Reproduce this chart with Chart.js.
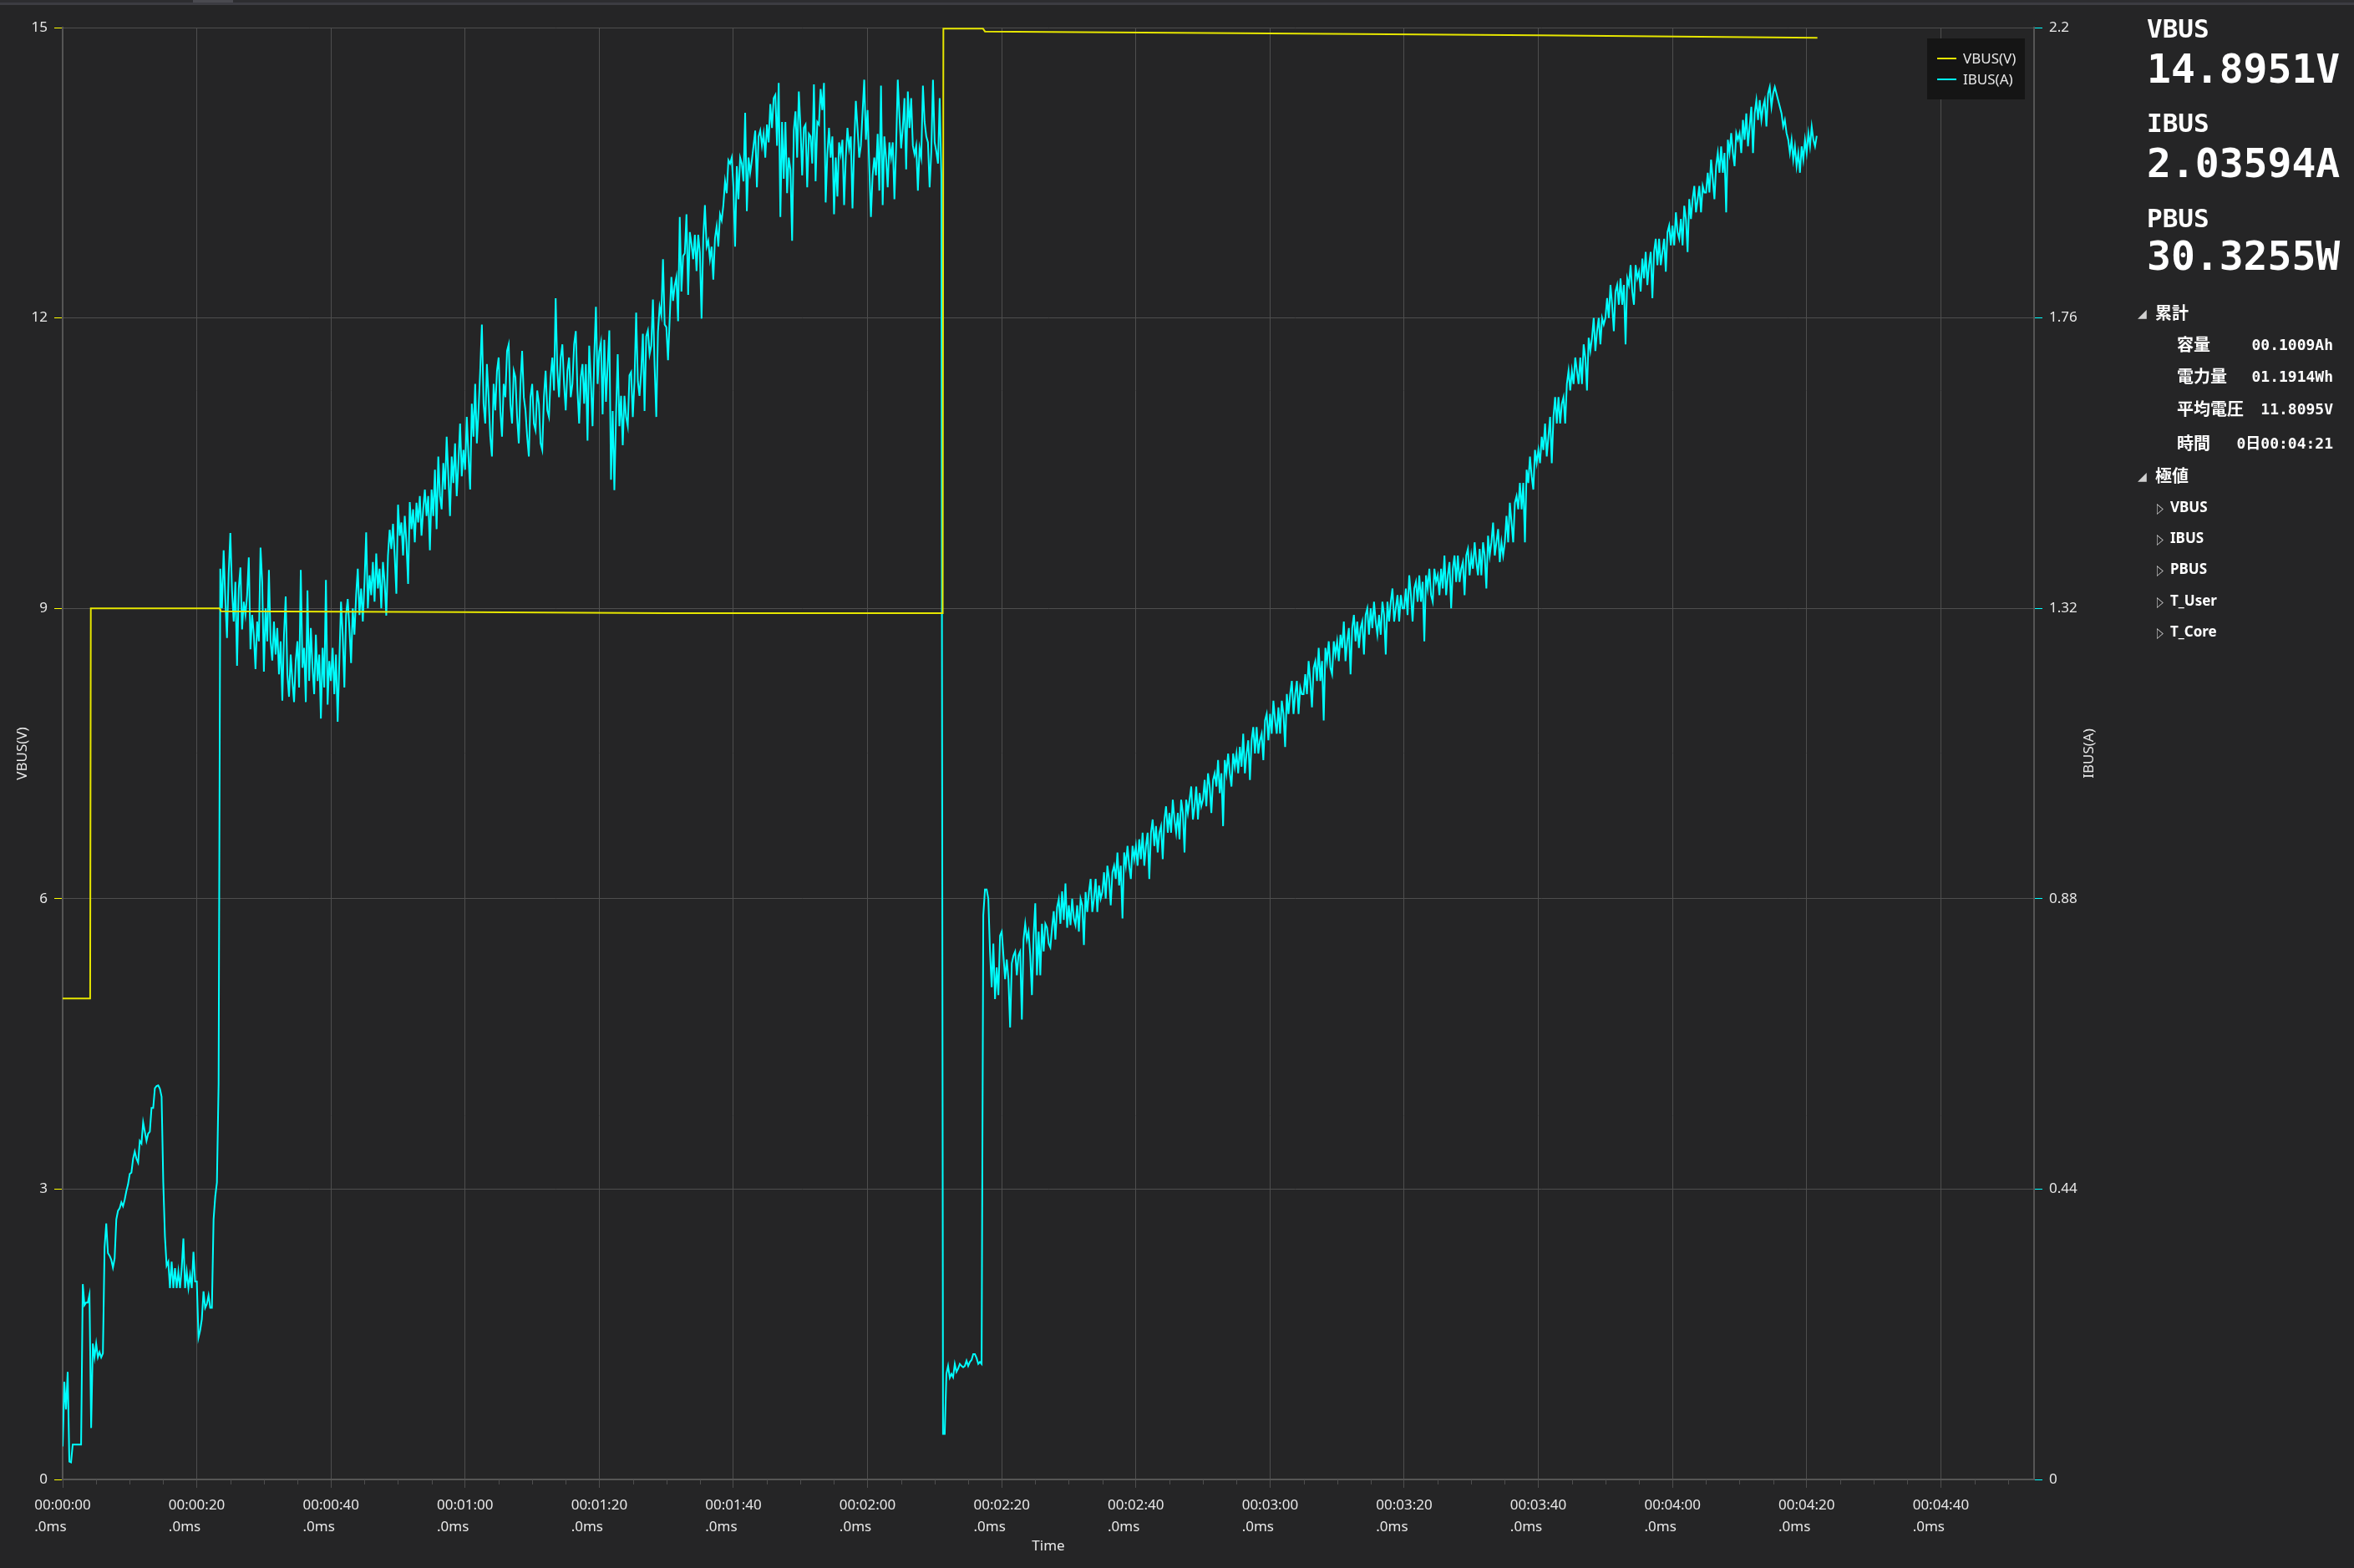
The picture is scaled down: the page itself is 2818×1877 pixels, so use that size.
<!DOCTYPE html>
<html>
<head>
<meta charset="utf-8">
<title>VBUS / IBUS</title>
<script src="https://cdn.jsdelivr.net/npm/chart.js@4.4.1/dist/chart.umd.min.js"></script>
<style>
  html, body { margin: 0; padding: 0; background: #252526; overflow: hidden; }
  #page { position: relative; width: 2818px; height: 1877px; background: #252526; }
  #chart { position: absolute; left: 0; top: 0; }
  .topbar { position: absolute; left: 0; top: 0; width: 2818px; height: 3px; background: #2d2d30; }
  .topline { position: absolute; left: 0; top: 3px; width: 2818px; height: 3px; background: #3c3c42; }
  .topthumb { position: absolute; left: 231px; top: 0; width: 48px; height: 3px; background: #4a4a50; }
  .side { position: absolute; color: #ffffff; white-space: nowrap; }
  .hl { left: 2570px; font: bold 31px 'DejaVu Sans Mono', monospace; line-height: 31px; }
  .hv { left: 2570px; font: bold 48px 'DejaVu Sans Mono', monospace; line-height: 48px; }
  .grp { left: 2580px; font: bold 20px 'Noto Sans CJK JP', sans-serif; line-height: 26px; }
  .key { left: 2606px; font: bold 20px 'Noto Sans CJK JP', sans-serif; line-height: 26px; }
  .val { right: 25px; font: bold 18px 'DejaVu Sans Mono', 'Noto Sans CJK JP', monospace; line-height: 26px; text-align: right; }
  .leaf { left: 2598px; font: bold 17px 'Noto Sans', sans-serif; line-height: 26px; }
  .open { left: 2559px; font: 14px 'DejaVu Sans', sans-serif; line-height: 20px; color: #d0d0d0; }
  .closed { left: 2582px; font: 17px 'DejaVu Sans', sans-serif; line-height: 26px; color: #d0d0d0;
            transform: scaleX(0.6); transform-origin: left center; }
</style>
</head>
<body>
<div id="page">
  <canvas id="chart" width="2818" height="1877" style="width:2818px;height:1877px"></canvas>
  <div class="topbar"></div>
  <div class="topline"></div>
  <div class="topthumb"></div>

  <!-- live readings -->
  <div class="side hl" style="top:19px">VBUS</div>
  <div class="side hv" style="top:58px">14.8951V</div>
  <div class="side hl" style="top:132px">IBUS</div>
  <div class="side hv" style="top:171px">2.03594A</div>
  <div class="side hl" style="top:246px">PBUS</div>
  <div class="side hv" style="top:282px">30.3255W</div>

  <!-- totals tree -->
  <div class="side open" style="top:365px">&#9698;</div>
  <div class="side grp" style="top:361px">累計</div>
  <div class="side key" style="top:399px">容量</div>
  <div class="side val" style="top:400px">00.1009Ah</div>
  <div class="side key" style="top:437px">電力量</div>
  <div class="side val" style="top:438px">01.1914Wh</div>
  <div class="side key" style="top:476px">平均電圧</div>
  <div class="side val" style="top:477px">11.8095V</div>
  <div class="side key" style="top:517px">時間</div>
  <div class="side val" style="top:518px">0日00:04:21</div>
  <div class="side open" style="top:560px">&#9698;</div>
  <div class="side grp" style="top:556px">極値</div>
  <div class="side closed" style="top:595px">&#9655;</div>
  <div class="side leaf" style="top:594px">VBUS</div>
  <div class="side closed" style="top:632px">&#9655;</div>
  <div class="side leaf" style="top:631px">IBUS</div>
  <div class="side closed" style="top:669px">&#9655;</div>
  <div class="side leaf" style="top:668px">PBUS</div>
  <div class="side closed" style="top:707px">&#9655;</div>
  <div class="side leaf" style="top:706px">T_User</div>
  <div class="side closed" style="top:744px">&#9655;</div>
  <div class="side leaf" style="top:743px">T_Core</div>
</div>

<script>
// axis ticks
var xTickValues = [0, 20, 40, 60, 80, 100, 120, 140, 160, 180, 200, 220, 240, 260, 280];
var xTickLabels = ['00:00:00', '00:00:20', '00:00:40', '00:01:00', '00:01:20', '00:01:40', '00:02:00',
                   '00:02:20', '00:02:40', '00:03:00', '00:03:20', '00:03:40', '00:04:00', '00:04:20', '00:04:40'];
var xTickSuffix = '.0ms';
var xMinorTicks = [5, 10, 15, 25, 30, 35, 45, 50, 55, 65, 70, 75, 85, 90, 95, 105, 110, 115, 125, 130, 135,
                   145, 150, 155, 165, 170, 175, 185, 190, 195, 205, 210, 215, 225, 230, 235, 245, 250, 255,
                   265, 270, 275, 285, 290];
var vbusTicks = [0, 3, 6, 9, 12, 15];
var ibusTicks = [0, 0.44, 0.88, 1.32, 1.76, 2.2];

// VBUS (V): only changes at a few moments, so it keeps its own time list (s)
var vbusTimes  = [0, 4.1, 4.2, 23.4, 23.6, 60, 90, 131.2, 131.3, 137.2, 137.5, 180, 220, 261.6];
var vbusValues = [4.97, 4.97, 9.0, 9.0, 8.97, 8.96, 8.95, 8.95, 14.99, 14.99, 14.96, 14.94, 14.92, 14.895];

// IBUS (A): one sample every 0.25 s from 00:00:00, each row is 5 s
var ibusStep = 0.25;
var ibusValues = [
  0.05, 0.148, 0.106, 0.163, 0.027, 0.026, 0.053, 0.053, 0.053, 0.053, 0.053, 0.053, 0.296, 0.264, 0.268, 0.268, 0.28, 0.078, 0.206, 0.185, // 0
  0.206, 0.185, 0.193, 0.185, 0.191, 0.352, 0.388, 0.343, 0.339, 0.333, 0.321, 0.335, 0.394, 0.407, 0.411, 0.42, 0.414, 0.424, 0.437, 0.447, // 5
  0.463, 0.465, 0.486, 0.497, 0.486, 0.48, 0.513, 0.509, 0.541, 0.527, 0.513, 0.524, 0.527, 0.563, 0.563, 0.593, 0.596, 0.597, 0.592, 0.58, // 10
  0.45, 0.368, 0.324, 0.33, 0.29, 0.33, 0.29, 0.32, 0.29, 0.315, 0.29, 0.32, 0.365, 0.29, 0.315, 0.29, 0.31, 0.29, 0.345, 0.30,           // 15
  0.30, 0.215, 0.226, 0.243, 0.285, 0.26, 0.266, 0.279, 0.26, 0.26, 0.394, 0.429, 0.45, 0.60, 1.38, 1.32, 1.408, 1.334, 1.275, 1.372,     // 20
  1.434, 1.347, 1.30, 1.36, 1.233, 1.35, 1.382, 1.288, 1.33, 1.31, 1.34, 1.397, 1.258, 1.31, 1.28, 1.228, 1.30, 1.27, 1.412, 1.36,       // 25
  1.224, 1.32, 1.27, 1.378, 1.27, 1.241, 1.30, 1.25, 1.29, 1.22, 1.27, 1.18, 1.28, 1.338, 1.22, 1.186, 1.25, 1.21, 1.178, 1.24,          // 30
  1.27, 1.20, 1.378, 1.23, 1.26, 1.178, 1.347, 1.21, 1.29, 1.23, 1.19, 1.28, 1.21, 1.25, 1.153, 1.26, 1.20, 1.363, 1.174, 1.24,          // 35
  1.21, 1.26, 1.19, 1.25, 1.148, 1.24, 1.33, 1.28, 1.20, 1.31, 1.334, 1.29, 1.237, 1.32, 1.28, 1.34, 1.38, 1.31, 1.35, 1.30,             // 40
  1.36, 1.435, 1.32, 1.37, 1.34, 1.39, 1.33, 1.403, 1.35, 1.38, 1.32, 1.39, 1.36, 1.309, 1.40, 1.439, 1.41, 1.448, 1.40, 1.342,          // 45
  1.477, 1.43, 1.45, 1.40, 1.46, 1.42, 1.357, 1.481, 1.44, 1.47, 1.42, 1.48, 1.45, 1.49, 1.43, 1.47, 1.50, 1.46, 1.49, 1.408,            // 50
  1.50, 1.46, 1.53, 1.44, 1.55, 1.49, 1.47, 1.54, 1.50, 1.58, 1.52, 1.46, 1.55, 1.51, 1.57, 1.49, 1.54, 1.60, 1.52, 1.56,                // 55
  1.53, 1.61, 1.55, 1.50, 1.63, 1.58, 1.66, 1.57, 1.62, 1.68, 1.75, 1.63, 1.60, 1.69, 1.64, 1.58, 1.55, 1.66, 1.62, 1.68,                // 60
  1.70, 1.62, 1.58, 1.66, 1.64, 1.71, 1.72, 1.63, 1.60, 1.68, 1.67, 1.61, 1.57, 1.66, 1.71, 1.64, 1.62, 1.58, 1.55, 1.64,                // 65
  1.66, 1.60, 1.59, 1.65, 1.63, 1.57, 1.56, 1.64, 1.68, 1.62, 1.61, 1.67, 1.70, 1.65, 1.79, 1.68, 1.64, 1.70, 1.72, 1.66,                // 70
  1.62, 1.68, 1.70, 1.64, 1.66, 1.72, 1.74, 1.65, 1.60, 1.67, 1.69, 1.63, 1.69, 1.574, 1.718, 1.664, 1.596, 1.70, 1.777, 1.66,           // 75
  1.709, 1.723, 1.614, 1.727, 1.633, 1.687, 1.741, 1.515, 1.619, 1.499, 1.614, 1.705, 1.596, 1.642, 1.567, 1.642, 1.61, 1.596, 1.673, 1.678, // 80
  1.61, 1.664, 1.768, 1.664, 1.642, 1.678, 1.736, 1.619, 1.732, 1.741, 1.705, 1.718, 1.788, 1.687, 1.61, 1.739, 1.777, 1.764, 1.849, 1.75,    // 85
  1.746, 1.696, 1.759, 1.822, 1.786, 1.809, 1.822, 1.755, 1.913, 1.80, 1.854, 1.858, 1.917, 1.795, 1.89, 1.872, 1.849, 1.886, 1.831, 1.886,   // 90
  1.859, 1.759, 1.881, 1.931, 1.868, 1.877, 1.849, 1.868, 1.818, 1.881, 1.899, 1.868, 1.917, 1.908, 1.931, 1.967, 1.949, 1.999, 1.994, 2.003, // 95
  1.958, 1.868, 1.99, 1.94, 2.003, 1.994, 1.967, 2.071, 1.922, 2.003, 1.98, 1.999, 2.021, 2.044, 1.958, 2.035, 2.044, 2.021, 2.039, 2.003,    // 100
  2.053, 2.026, 2.084, 2.048, 2.093, 2.098, 2.021, 2.116, 1.913, 2.057, 1.971, 2.057, 1.949, 2.003, 1.985, 1.877, 2.044, 2.073, 2.003, 2.103, // 105
  2.048, 1.976, 2.048, 2.053, 1.958, 2.039, 2.035, 1.994, 2.114, 1.967, 2.057, 2.053, 2.107, 2.075, 2.116, 1.935, 2.008, 2.048, 2.003, 2.035, // 110
  1.917, 2.003, 1.944, 2.026, 2.008, 2.03, 1.931, 2.003, 2.048, 2.017, 2.035, 1.926, 2.021, 2.089, 2.048, 2.003, 2.021, 2.071, 2.121, 2.03,   // 115
  2.075, 1.99, 1.913, 1.976, 2.003, 1.976, 2.039, 1.953, 2.112, 1.931, 2.035, 2.003, 1.958, 2.026, 2.003, 2.026, 1.94, 2.017, 2.121, 2.066,   // 120
  2.017, 2.048, 2.093, 1.985, 2.103, 2.048, 2.093, 2.021, 2.008, 2.021, 1.953, 2.017, 2.003, 2.112, 2.057, 2.035, 2.026, 1.958, 2.012, 2.121, // 125
  2.026, 2.012, 1.994, 2.093, 1.976, 0.069, 0.069, 0.16, 0.172, 0.154, 0.16, 0.155, 0.175, 0.163, 0.168, 0.175, 0.172, 0.17, 0.172, 0.18,     // 130
  0.172, 0.178, 0.181, 0.19, 0.19, 0.184, 0.175, 0.178, 0.175, 0.855, 0.894, 0.894, 0.88, 0.80, 0.746, 0.812, 0.728, 0.776, 0.734, 0.824,    // 135
  0.83, 0.794, 0.758, 0.788, 0.758, 0.685, 0.782, 0.794, 0.80, 0.764, 0.794, 0.80, 0.697, 0.818, 0.842, 0.818, 0.83, 0.794, 0.734, 0.824,     // 140
  0.873, 0.764, 0.83, 0.764, 0.842, 0.80, 0.842, 0.836, 0.812, 0.806, 0.836, 0.861, 0.818, 0.867, 0.879, 0.842, 0.891, 0.848, 0.903, 0.836,   // 145
  0.87, 0.84, 0.88, 0.85, 0.84, 0.87, 0.83, 0.88, 0.87, 0.81, 0.89, 0.86, 0.89, 0.91, 0.86, 0.88, 0.91, 0.86, 0.90, 0.88,                // 150
  0.89, 0.92, 0.88, 0.93, 0.91, 0.87, 0.92, 0.93, 0.91, 0.95, 0.90, 0.93, 0.85, 0.95, 0.93, 0.96, 0.93, 0.91, 0.96, 0.94,                // 155
  0.96, 0.93, 0.97, 0.94, 0.98, 0.93, 0.96, 0.98, 0.91, 0.98, 1.00, 0.96, 0.99, 0.95, 0.98, 0.99, 0.94, 1.00, 1.02, 0.98,                // 160
  1.01, 0.98, 1.03, 1.00, 0.98, 1.01, 0.97, 1.03, 1.01, 0.95, 1.03, 1.01, 1.03, 1.05, 1.00, 1.02, 1.05, 1.00, 1.04, 1.02,                // 165
  1.03, 1.06, 1.02, 1.07, 1.05, 1.01, 1.06, 1.07, 1.05, 1.09, 1.04, 1.07, 0.99, 1.09, 1.07, 1.10, 1.07, 1.05, 1.10, 1.08,                // 170
  1.10, 1.07, 1.11, 1.08, 1.13, 1.07, 1.10, 1.12, 1.06, 1.12, 1.14, 1.10, 1.14, 1.10, 1.12, 1.13, 1.09, 1.15, 1.16, 1.12,                // 175
  1.16, 1.13, 1.18, 1.15, 1.13, 1.17, 1.13, 1.18, 1.16, 1.11, 1.19, 1.16, 1.19, 1.21, 1.16, 1.19, 1.21, 1.16, 1.20, 1.19,                // 180
  1.19, 1.22, 1.19, 1.24, 1.21, 1.17, 1.23, 1.24, 1.21, 1.26, 1.21, 1.24, 1.15, 1.26, 1.24, 1.27, 1.23, 1.22, 1.27, 1.25,                // 185
  1.27, 1.24, 1.28, 1.26, 1.30, 1.24, 1.27, 1.29, 1.22, 1.29, 1.31, 1.27, 1.30, 1.26, 1.29, 1.30, 1.25, 1.31, 1.32, 1.28,                // 190
  1.32, 1.29, 1.33, 1.30, 1.28, 1.31, 1.28, 1.33, 1.31, 1.25, 1.33, 1.30, 1.33, 1.35, 1.30, 1.32, 1.34, 1.30, 1.34, 1.32,                // 195
  1.32, 1.35, 1.31, 1.37, 1.34, 1.30, 1.35, 1.36, 1.33, 1.37, 1.33, 1.36, 1.27, 1.37, 1.35, 1.38, 1.34, 1.33, 1.38, 1.36,                // 200
  1.37, 1.34, 1.38, 1.35, 1.40, 1.34, 1.37, 1.39, 1.32, 1.38, 1.40, 1.36, 1.40, 1.36, 1.38, 1.39, 1.34, 1.40, 1.41, 1.37,                // 205
  1.40, 1.38, 1.42, 1.39, 1.37, 1.41, 1.37, 1.42, 1.40, 1.35, 1.43, 1.40, 1.42, 1.45, 1.40, 1.42, 1.44, 1.39, 1.42, 1.40,                // 210
  1.42, 1.46, 1.42, 1.48, 1.45, 1.42, 1.48, 1.49, 1.47, 1.51, 1.47, 1.51, 1.42, 1.53, 1.51, 1.55, 1.52, 1.50, 1.56, 1.54,                // 215
  1.56, 1.54, 1.58, 1.56, 1.60, 1.55, 1.58, 1.61, 1.54, 1.61, 1.64, 1.60, 1.64, 1.60, 1.63, 1.64, 1.60, 1.66, 1.68, 1.65,                // 220
  1.68, 1.66, 1.70, 1.68, 1.66, 1.70, 1.66, 1.72, 1.70, 1.65, 1.73, 1.71, 1.73, 1.76, 1.71, 1.74, 1.76, 1.72, 1.76, 1.75,                // 225
  1.76, 1.79, 1.76, 1.81, 1.78, 1.74, 1.80, 1.81, 1.78, 1.82, 1.78, 1.81, 1.72, 1.82, 1.81, 1.84, 1.80, 1.78, 1.84, 1.82,                // 230
  1.83, 1.80, 1.85, 1.82, 1.86, 1.81, 1.84, 1.86, 1.79, 1.86, 1.88, 1.84, 1.88, 1.84, 1.86, 1.88, 1.83, 1.89, 1.90, 1.87,                // 235
  1.90, 1.87, 1.92, 1.89, 1.88, 1.91, 1.87, 1.93, 1.91, 1.86, 1.94, 1.91, 1.94, 1.96, 1.92, 1.94, 1.96, 1.92, 1.96, 1.95,                // 240
  1.95, 1.98, 1.95, 2.00, 1.97, 1.94, 1.99, 2.01, 1.98, 2.02, 1.98, 2.01, 1.92, 2.03, 2.01, 2.04, 2.01, 1.99, 2.04, 2.03,                // 245
  2.04, 2.01, 2.06, 2.03, 2.07, 2.02, 2.05, 2.08, 2.01, 2.07, 2.09, 2.06, 2.09, 2.06, 2.08, 2.09, 2.05, 2.10, 2.11, 2.08,                // 250
  2.10, 2.11, 2.10, 2.09, 2.08, 2.07, 2.05, 2.06, 2.04, 2.03, 2.01, 2.03, 2.00, 2.02, 1.99, 2.01, 1.98, 2.02, 2.00, 2.03,                // 255
  2.01, 2.04, 2.02, 2.05, 2.03, 2.02, 2.036                                                                                          // 260
];

var textColor = '#e8e8e8';
var gridColor = '#4e4e4e';
var uiFont = "'Noto Sans', sans-serif";
var uiFontSize = 17;

// build point lists for the line datasets
var vbusPoints = vbusTimes.map(function(t, i) {
    return {x: t, y: vbusValues[i]};
});
var ibusPoints = ibusValues.map(function(v, i) {
    return {x: i * ibusStep, y: v};
});

/* extra drawing that chart.js has no option for:
 * minor ticks and the left aligned second label line on the time axis,
 * the right axis title (reads bottom to top) and the legend box inside the plot
 */
var overlayPlugin = {
    id: 'overlay',
    afterDraw: function(chart) {
        var ctx = chart.ctx;
        var area = chart.chartArea;
        var xScale = chart.scales.x;
        ctx.save();

        // minor ticks every 5 s
        ctx.strokeStyle = gridColor;
        ctx.lineWidth = 1;
        xMinorTicks.forEach(function(t) {
            var px = Math.round(xScale.getPixelForValue(t)) + 0.5;
            ctx.beginPath();
            ctx.moveTo(px, area.bottom);
            ctx.lineTo(px, area.bottom + 6);
            ctx.stroke();
        });

        // second line of each time label, left aligned with the first line
        ctx.font = uiFontSize + 'px ' + uiFont;
        ctx.fillStyle = textColor;
        ctx.textAlign = 'left';
        ctx.textBaseline = 'middle';
        xTickValues.forEach(function(v, i) {
            var px = xScale.getPixelForValue(v);
            var w = ctx.measureText(xTickLabels[i]).width;
            ctx.fillText(xTickSuffix, px - w / 2, area.bottom + 57);
        });

        // right axis title
        ctx.textAlign = 'center';
        ctx.translate(2501, (area.top + area.bottom) / 2);
        ctx.rotate(-Math.PI / 2);
        ctx.fillText('IBUS(A)', 0, 0);
        ctx.setTransform(1, 0, 0, 1, 0, 0);

        // legend in the top right corner of the plot
        var boxLeft = area.right - 128;
        var boxTop = area.top + 13;
        ctx.fillStyle = '#151515';
        ctx.fillRect(boxLeft, boxTop, 117, 73);
        ctx.textAlign = 'left';
        chart.data.datasets.forEach(function(ds, i) {
            var rowY = boxTop + 24 + i * 25;
            ctx.strokeStyle = ds.borderColor;
            ctx.lineWidth = 2;
            ctx.beginPath();
            ctx.moveTo(boxLeft + 12, rowY);
            ctx.lineTo(boxLeft + 35, rowY);
            ctx.stroke();
            ctx.fillStyle = textColor;
            ctx.fillText(ds.label, boxLeft + 43, rowY + 1);
        });
        ctx.restore();
    }
};

var chartConfig = {
    type: 'line',
    data: {
        datasets: [{
            label: 'VBUS(V)',
            data: vbusPoints,
            yAxisID: 'y',
            borderColor: '#e6e600',
            borderWidth: 2,
            pointRadius: 0,
            tension: 0
        }, {
            label: 'IBUS(A)',
            data: ibusPoints,
            yAxisID: 'y1',
            borderColor: '#00ffff',
            borderWidth: 2,
            pointRadius: 0,
            tension: 0
        }]
    },
    options: {
        responsive: false,
        devicePixelRatio: 1,
        animation: false,
        events: [],
        layout: {
            padding: {top: 33, left: 0, right: 0, bottom: 0}
        },
        plugins: {
            legend: {display: false},
            tooltip: {enabled: false}
        },
        scales: {
            x: {
                type: 'linear',
                position: 'bottom',
                min: 0,
                max: 293.9,
                afterBuildTicks: function(scale) {
                    scale.ticks = xTickValues.map(function(v) { return {value: v}; });
                },
                afterFit: function(scale) { scale.height = 106; },
                ticks: {
                    autoSkip: false,
                    maxRotation: 0,
                    color: textColor,
                    padding: 8,
                    font: {family: uiFont, size: uiFontSize, lineHeight: 1.5},
                    callback: function(value, index) {
                        return xTickLabels[index];
                    }
                },
                grid: {color: gridColor, lineWidth: 1, tickLength: 10, tickColor: gridColor},
                border: {color: '#555555', width: 2},
                title: {
                    display: true,
                    text: 'Time',
                    color: textColor,
                    font: {family: uiFont, size: uiFontSize},
                    padding: {top: 0, bottom: 16}
                }
            },
            y: {
                type: 'linear',
                position: 'left',
                min: 0,
                max: 15,
                afterBuildTicks: function(scale) {
                    scale.ticks = vbusTicks.map(function(v) { return {value: v}; });
                },
                afterFit: function(scale) { scale.width = 75; },
                ticks: {
                    color: textColor,
                    padding: 8,
                    font: {family: uiFont, size: uiFontSize},
                    callback: function(value) { return String(value); }
                },
                grid: {color: gridColor, lineWidth: 1, tickLength: 10, tickColor: '#ffff00'},
                border: {color: '#555555', width: 2},
                title: {
                    display: true,
                    text: 'VBUS(V)',
                    color: textColor,
                    font: {family: uiFont, size: uiFontSize},
                    padding: {top: 17, bottom: 0}
                }
            },
            y1: {
                type: 'linear',
                position: 'right',
                min: 0,
                max: 2.2,
                afterBuildTicks: function(scale) {
                    scale.ticks = ibusTicks.map(function(v) { return {value: v}; });
                },
                afterFit: function(scale) { scale.width = 383; },
                ticks: {
                    color: textColor,
                    padding: 8,
                    font: {family: uiFont, size: uiFontSize},
                    callback: function(value) { return String(value); }
                },
                grid: {drawOnChartArea: false, tickLength: 10, tickColor: '#00ffff'},
                border: {color: '#555555', width: 2}
            }
        }
    },
    plugins: [overlayPlugin]
};

var chart = new Chart(document.getElementById('chart'), chartConfig);
</script>
</body>
</html>
